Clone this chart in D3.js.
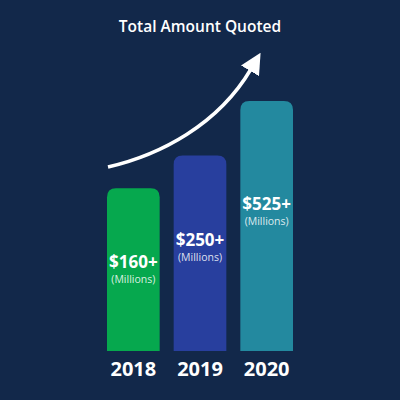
<!DOCTYPE html>
<html>
<head>
<meta charset="utf-8">
<script src="https://cdn.jsdelivr.net/npm/d3@7"></script>
<style>
  html, body { margin: 0; padding: 0; background: #12284a; }
  svg { display: block; }
</style>
</head>
<body>
<svg id="chart" width="400" height="400"></svg>
<script>
const years = ["2018", "2019", "2020"];
const amounts = [160, 250, 525];
const amountLabels = ["$160+", "$250+", "$525+"];
const unitLabel = "(Millions)";
const barColors = ["#06a84e", "#283f9e", "#23899f"];
const title = "Total Amount Quoted";

const W = 400, H = 400;
const base = 351;
const font = "'Open Sans', sans-serif";

const svg = d3.select("#chart");

svg.append("rect")
    .attr("width", W)
    .attr("height", H)
    .attr("fill", "#12284a");

const x = d3.scaleBand()
    .domain(years)
    .range([100, 300])
    .paddingInner(0.21)
    .paddingOuter(0.105);

// bar heights in the picture grow roughly with the log of the amount
const y = d3.scaleLog()
    .domain([17.5, 525])
    .range([base, 101]);

function barPath(x0, w, top, r) {
    return `M${x0},${base} V${top + r} Q${x0},${top} ${x0 + r},${top} H${x0 + w - r} Q${x0 + w},${top} ${x0 + w},${top + r} V${base} Z`;
}

// where the value label sits inside a bar
function labelY(v) {
    let top = y(v);
    return top + (base - top) * 0.33 + 26;
}

const bars = svg.append("g")
    .selectAll("g")
    .data(years)
    .join("g");

bars.append("path")
    .attr("d", (d, i) => barPath(x(d), x.bandwidth(), y(amounts[i]), 9))
    .attr("fill", (d, i) => barColors[i]);

bars.append("text")
    .attr("x", d => x(d) + x.bandwidth() / 2)
    .attr("y", (d, i) => labelY(amounts[i]))
    .attr("text-anchor", "middle")
    .attr("font-family", font)
    .attr("font-weight", 700)
    .attr("font-size", 17)
    .attr("fill", "#ffffff")
    .text((d, i) => amountLabels[i]);

bars.append("text")
    .attr("x", d => x(d) + x.bandwidth() / 2)
    .attr("y", (d, i) => labelY(amounts[i]) + 15)
    .attr("text-anchor", "middle")
    .attr("font-family", font)
    .attr("font-size", 10.5)
    .attr("fill", "#ffffff")
    .attr("fill-opacity", 0.85)
    .text(unitLabel);

// year labels under the bars
bars.append("text")
    .attr("x", d => x(d) + x.bandwidth() / 2)
    .attr("y", 376)
    .attr("text-anchor", "middle")
    .attr("font-family", font)
    .attr("font-weight", 700)
    .attr("font-size", 20)
    .attr("fill", "#ffffff")
    .text(d => d);

svg.append("text")
    .attr("x", 200)
    .attr("y", 32)
    .attr("text-anchor", "middle")
    .attr("font-family", font)
    .attr("font-weight", 600)
    .attr("font-size", 15.5)
    .attr("fill", "#ffffff")
    .text(title);

// growth arrow
svg.append("defs").append("marker")
    .attr("id", "head")
    .attr("viewBox", "0 0 10 10")
    .attr("refX", 1)
    .attr("refY", 5)
    .attr("markerWidth", 6)
    .attr("markerHeight", 6)
    .attr("markerUnits", "strokeWidth")
    .attr("orient", "auto")
  .append("path")
    .attr("d", "M0,0 L10,5 L0,10 Z")
    .attr("fill", "#ffffff");

svg.append("path")
    .attr("d", "M108,167 C160,155 218,125 251,69")
    .attr("fill", "none")
    .attr("stroke", "#ffffff")
    .attr("stroke-width", 3.5)
    .attr("marker-end", "url(#head)");
</script>
</body>
</html>
